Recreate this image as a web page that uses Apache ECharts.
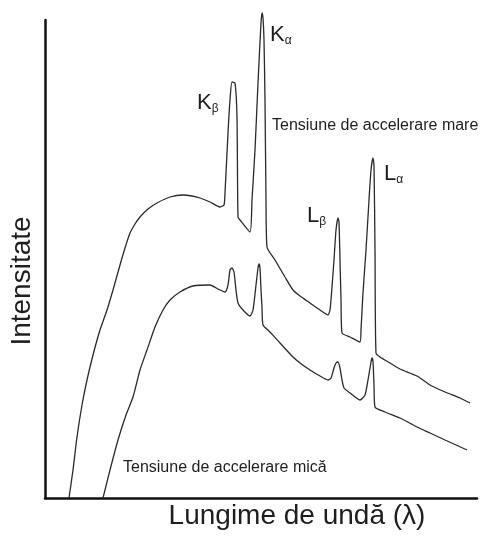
<!DOCTYPE html>
<html>
<head>
<meta charset="utf-8">
<script src="https://cdn.jsdelivr.net/npm/echarts@6/dist/echarts.min.js"></script>
<style>
html,body{margin:0;padding:0;background:#fff;}
#chart{width:483px;height:540px;}
</style>
</head>
<body>
<div id="chart"></div>
<script>
// Wavelength (arbitrary units) and intensity (arbitrary units)
const highLambda = [24,28,32,37,42,48,55,62,68,75,80,85,90,95,103,112,125,138,147,155,165,175,179,180,183,185,187,190,192,193,195,205,207,210,213,216,217,218,219,220,221,222,230,240,248,255,265,275,283,285,287,289,291,293,294,295,296,297,305,315,316,318,321,324,326,328,329,330,331,335,345,355,372,385,400,415,425];
const highIntensity = [0,28,61,93,118,143,168,188,208,233,250,265,274,281,289,295,301,303,302,300,296,291,293,305,365,398,416,415,381,281,278,266,298,348,415,475,485,480,458,398,298,251,238,221,208,202,195,188,183,188,211,238,268,280,276,238,198,165,161,156,168,205,248,298,328,340,333,248,145,141,135,129,122,113,106,100,95];

const lowLambda = [58,65,73,81,88,95,102,110,118,125,135,148,165,173,180,183,185,187,189,191,193,198,205,208,211,213,214,215,216,217,218,225,235,248,255,265,275,283,286,289,291,293,295,297,299,305,315,320,323,326,327,328,329,330,340,355,372,385,400,422];
const lowIntensity = [0,28,58,83,101,128,148,171,188,198,206,212,213,209,206,213,228,230,226,208,195,188,182,188,213,230,234,230,208,191,173,166,155,141,135,128,122,118,120,130,135,136,130,118,110,105,98,103,118,136,140,136,113,91,86,80,71,65,58,48];

const xTitle = 'Lungime de undă (λ)';
const yTitle = 'Intensitate';
const highLabel = 'Tensiune de accelerare mare';
const lowLabel = 'Tensiune de accelerare mică';

// annotation anchors [lambda, intensity, text]
const peakLabels = [
  [225, 463, '{k|K}{s|α}'],
  [152, 395, '{k|K}{s|β}'],
  [262, 282, '{k|L}{s|β}'],
  [339, 324, '{k|L}{s|α}']
];
const curveLabels = [
  [227, 372, highLabel],
  [78, 30, lowLabel]
];

function zip(a, b) { return a.map((v, i) => [v, b[i]]); }

const FONT = '"Liberation Sans", Arial, Helvetica, sans-serif';
const INK = '#1e1e1e';

const rich = {
  k: { fontSize: 22, fontFamily: FONT, color: INK, lineHeight: 24 },
  s: { fontSize: 12, fontFamily: FONT, color: INK, verticalAlign: 'bottom', padding: [12, 0, 0, 0], lineHeight: 24 }
};

const chart = echarts.init(document.getElementById('chart'), null, { renderer: 'canvas' });
chart.setOption({
  animation: false,
  backgroundColor: '#ffffff',
  grid: { left: 45, right: 6, top: 20, bottom: 42 },
  xAxis: {
    type: 'value', min: 0, max: 432,
    axisLine: { show: true, onZero: false, lineStyle: { color: '#111', width: 2.5 } },
    axisTick: { show: false }, axisLabel: { show: false }, splitLine: { show: false }
  },
  yAxis: {
    type: 'value', min: 0, max: 478,
    axisLine: { show: true, onZero: false, lineStyle: { color: '#111', width: 2.5 } },
    axisTick: { show: false }, axisLabel: { show: false }, splitLine: { show: false }
  },
  series: [
    {
      type: 'line', name: highLabel, data: zip(highLambda, highIntensity),
      showSymbol: false, symbol: 'none', clip: false,
      smooth: 0.2,
      lineStyle: { color: '#2a2a2a', width: 1.3 },
      markPoint: {
        symbol: 'circle', symbolSize: 0, silent: true,
        data: peakLabels.map(p => ({ coord: [p[0], p[1]], value: p[2] }))
          .concat(curveLabels.map(p => ({ coord: [p[0], p[1]], value: p[2] }))),
        label: {
          show: true, position: 'right', distance: 0,
          formatter: (d) => d.value,
          rich: rich, fontFamily: FONT, fontSize: 16, color: INK
        }
      }
    },
    {
      type: 'line', name: lowLabel, data: zip(lowLambda, lowIntensity),
      showSymbol: false, symbol: 'none', clip: false,
      smooth: 0.2,
      lineStyle: { color: '#2a2a2a', width: 1.3 }
    }
  ],
  graphic: [
    {
      type: 'text', x: 297, y: 516,
      style: { text: xTitle, font: '28px ' + FONT, fill: INK, align: 'center', verticalAlign: 'middle' }
    },
    {
      type: 'text', x: 22, y: 281, rotation: Math.PI / 2,
      style: { text: yTitle, font: '28px ' + FONT, fill: INK, align: 'center', verticalAlign: 'middle' }
    }
  ]
});
</script>
</body>
</html>
